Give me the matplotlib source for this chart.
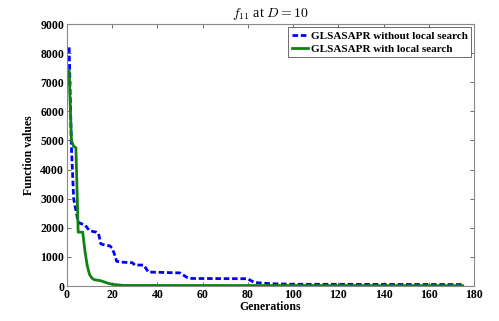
import matplotlib
matplotlib.use("Agg")
import matplotlib.pyplot as plt

blue_gen = [1, 2, 3, 4, 5, 6, 8, 9, 10, 13, 14, 15, 17, 19, 20, 21, 22, 24, 29, 30, 34, 35, 36,
            50, 51, 53, 54, 80, 81, 83, 90, 100, 175]
blue_val = [8200, 4800, 3000, 2600, 2200, 2150, 2100, 2000, 1900, 1850, 1800, 1450, 1400, 1380,
            1300, 1100, 850, 820, 800, 720, 720, 600, 480, 450, 400, 300, 260, 250, 200, 120, 80, 60, 50]

green_gen = [1, 2, 3, 4, 5, 7, 8, 9, 10, 11, 12, 15, 18, 20, 25, 175]
green_val = [7400, 5000, 4800, 4750, 1850, 1850, 1200, 700, 400, 280, 220, 180, 100, 60, 20, 10]

xticks = [0, 20, 40, 60, 80, 100, 120, 140, 160, 180]
yticks = [0, 1000, 2000, 3000, 4000, 5000, 6000, 7000, 8000, 9000]

plt.rcParams['font.family'] = ['Liberation Serif', 'DejaVu Serif']
plt.rcParams['mathtext.fontset'] = 'cm'

fig = plt.figure(figsize=(4.99, 3.21), dpi=100)
ax = fig.add_axes([0.134, 0.109, 0.816, 0.816])

ax.plot(blue_gen, blue_val, color='#0000ff', linestyle='--', linewidth=2.0,
        dashes=(2, 1), label='GLSASAPR without local search')
ax.plot(green_gen, green_val, color='#128012', linestyle='-', linewidth=2.0,
        label='GLSASAPR with local search')

ax.set_xlim(0, 180)
ax.set_ylim(0, 9000)
ax.set_xticks(xticks)
ax.set_yticks(yticks)
ax.tick_params(direction='in', top=True, right=True, length=3, width=0.6,
               colors='#555555', labelcolor='black', labelsize=8.5, pad=2)
for lab in ax.get_xticklabels() + ax.get_yticklabels():
    lab.set_fontweight('bold')
for s in ax.spines.values():
    s.set_color('#888888')
    s.set_linewidth(0.8)

ax.set_xlabel('Generations', fontsize=8.5, fontweight='bold', labelpad=0)
ax.set_ylabel('Function values', fontsize=8.5, fontweight='bold', labelpad=4)
ax.set_title(r'$f_{11}$ at $D=10$', fontsize=10, pad=5)

leg = ax.legend(loc='upper right', prop={'weight': 'bold', 'size': 8}, handlelength=1.5,
                handletextpad=0.2, borderpad=0.3, labelspacing=0.3, fancybox=False,
                framealpha=1, borderaxespad=0.3)
leg.get_frame().set_edgecolor('#555555')
leg.get_frame().set_linewidth(0.6)

fig.savefig('out.png', dpi=100)
